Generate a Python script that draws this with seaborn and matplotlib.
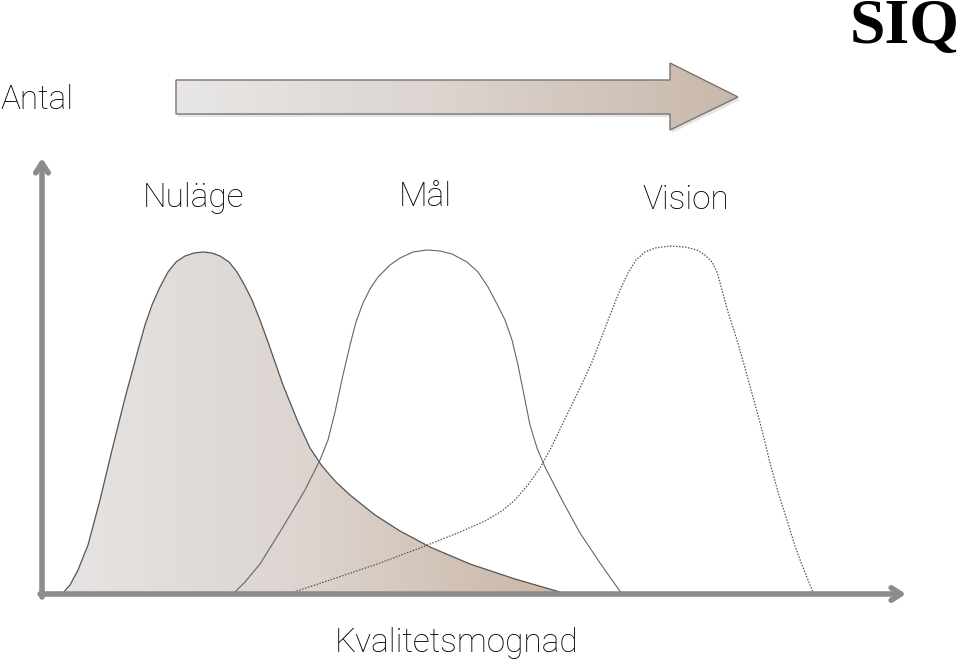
import numpy as np
import matplotlib
matplotlib.use("Agg")
import matplotlib.pyplot as plt
import seaborn as sns
from matplotlib.colors import LinearSegmentedColormap
from matplotlib.patches import Polygon

# curve outlines (pixel coordinates, y grows downward)
nulage_x = [62, 70, 78, 88, 100, 112, 125, 138, 145, 152, 160, 168, 176, 185, 194, 203,
            212, 220, 229, 237, 245, 252, 260, 268, 283, 298, 310, 322, 335, 350, 375,
            400, 430, 470, 515, 560]
nulage_y = [594, 585, 570, 545, 500, 450, 398, 350, 325, 305, 287, 272, 262, 256, 253, 252,
            253, 256, 262, 272, 286, 300, 320, 342, 385, 422, 448, 466, 481, 495, 515,
            531, 547, 564, 579, 592]

mal_x = [233, 245, 260, 283, 305, 320, 328, 335, 343, 350, 356, 363, 370, 378, 390, 400,
         413, 427, 440, 452, 467, 478, 488, 497, 505, 512, 518, 524, 530, 537, 545, 562,
         580, 600, 612, 622]
mal_y = [594, 582, 564, 527, 490, 460, 440, 412, 375, 345, 322, 303, 289, 277, 265, 258,
         252, 250, 251, 254, 262, 272, 287, 304, 320, 340, 365, 395, 425, 448, 467, 500,
         533, 563, 580, 594]

vision_x = [288, 330, 380, 420, 460, 485, 502, 515, 528, 540, 552, 562, 580, 592, 602,
            612, 620, 628, 636, 645, 655, 670, 685, 697, 705, 712, 717, 722, 728, 737,
            745, 753, 762, 770, 778, 787, 795, 802, 808, 813]
vision_y = [594, 580, 563, 548, 532, 521, 511, 500, 485, 468, 446, 425, 388, 362, 336,
            310, 290, 273, 260, 252, 248, 246, 247, 250, 255, 262, 272, 290, 312, 340,
            368, 397, 430, 463, 492, 520, 546, 565, 580, 592]

labels = ["Nuläge", "Mål", "Vision"]
label_x = [193, 425, 686]
label_y = [198, 197, 200]

sns.set_style("white")
plt.rcParams['font.family'] = ['Roboto', 'DejaVu Sans']

fig = plt.figure(figsize=(9.6, 6.64), dpi=100)
ax = fig.add_axes([0, 0, 1, 1])
ax.set_xlim(0, 960)
ax.set_ylim(664, 0)
ax.axis('off')

tan = LinearSegmentedColormap.from_list("tan", ["#e6e4e3", "#dcd4cf", "#cbb6a4"])
grad = np.linspace(0, 1, 256).reshape(1, -1)

# filled "Nuläge" curve with a horizontal gradient
base = 594
poly = Polygon(list(zip(nulage_x, nulage_y)) + [(nulage_x[-1], base), (nulage_x[0], base)],
               closed=True, facecolor='none', edgecolor='none')
ax.add_patch(poly)
im = ax.imshow(grad, cmap=tan, aspect='auto', extent=[62, 560, base, 245], zorder=1)
im.set_clip_path(poly)

sns.lineplot(x=nulage_x, y=nulage_y, sort=False, estimator=None, ax=ax,
             color='#555555', linewidth=0.9, zorder=3)
sns.lineplot(x=mal_x, y=mal_y, sort=False, estimator=None, ax=ax,
             color='#666666', linewidth=0.8, zorder=3)
sns.lineplot(x=vision_x, y=vision_y, sort=False, estimator=None, ax=ax,
             color='#555555', linewidth=0.9, linestyle=(0, (1.2, 1.2)), zorder=3)

# axes with arrow heads
ax.annotate('', xy=(42, 158), xytext=(42, 597),
            arrowprops=dict(arrowstyle='->,head_length=0.7,head_width=0.45',
                            color='#8c8c8c', lw=4, shrinkA=0, shrinkB=0))
ax.annotate('', xy=(906, 594), xytext=(40, 594),
            arrowprops=dict(arrowstyle='->,head_length=0.7,head_width=0.45',
                            color='#8c8c8c', lw=4, shrinkA=0, shrinkB=0))

# big gradient arrow at the top
arrow_pts = [(176, 80), (670, 80), (670, 63), (738, 97), (670, 130), (670, 114), (176, 114)]
shadow = Polygon([(x + 2, y + 3) for x, y in arrow_pts], closed=True,
                 facecolor='#cccccc', edgecolor='none', alpha=0.5, zorder=4)
ax.add_patch(shadow)
arrow = Polygon(arrow_pts, closed=True, facecolor='none', edgecolor='#7a7370',
                linewidth=1.0, zorder=6)
ax.add_patch(arrow)
aim = ax.imshow(grad, cmap=LinearSegmentedColormap.from_list("arr", ["#e8e7e6", "#dbd3ce", "#c9b8a9"]),
                aspect='auto', extent=[176, 738, 130, 63], zorder=5)
aim.set_clip_path(arrow)

# texts
fs = 24
ax.text(0, 100, "Antal", fontsize=fs, va='center', ha='left', color='black', fontweight='light')
for t, x, y in zip(labels, label_x, label_y):
    ax.text(x, y, t, fontsize=fs, ha='center', va='center', color='black', fontweight='light')
ax.text(457, 643, "Kvalitetsmognad", fontsize=fs, ha='center', va='center', color='black',
        fontweight='light')
ax.text(905, 28, "SIQ", fontsize=46, ha='center', va='center', fontweight='bold',
        family=['Liberation Serif', 'DejaVu Serif'], color='black')

fig.savefig("out.png", dpi=100)
